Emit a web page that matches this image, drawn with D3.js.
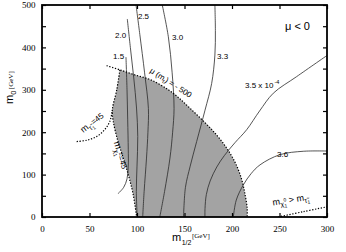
<!DOCTYPE html>
<html>
<head>
<meta charset="utf-8">
<script src="https://cdn.jsdelivr.net/npm/d3@7/dist/d3.min.js"></script>
<style>
body { margin: 0; background: #fff; }
text { font-family: 'Liberation Sans', Arial, sans-serif; fill: #000; }
.axis text { font-family: 'Liberation Serif', 'Times New Roman', serif; font-size: 9px; }
</style>
</head>
<body>
<svg id="chart" width="346" height="252"></svg>
<script>
// axis ticks
var xTicks = [0, 50, 100, 150, 200, 250, 300];
var yTicks = [0, 50, 100, 150, 200, 250, 300, 350, 400, 450, 500];

// BR(b -> s gamma) contours, x 1e-4, points are [m_1/2, m_0]
var br15 = [[88.4, 377], [89.5, 300], [90.2, 229], [90.8, 160], [90.8, 120], [89.5, 90], [86, 70], [80, 55]];
var br20 = [[89.8, 467], [93, 400], [96.5, 330], [99.5, 257], [100.8, 190], [100, 120], [99.3, 60], [100.2, 0]];
var br25 = [[99, 500], [103, 430], [108, 340], [112, 256], [111.5, 200], [110, 139], [107.5, 60], [106, 0]];
var br30 = [[126.6, 500], [133, 425], [137, 340], [139, 256], [137.5, 200], [134.7, 139], [129, 60], [124, 0]];
var br33 = [[182, 500], [182.5, 440], [182, 382], [178.6, 315], [171.6, 252], [162.8, 178], [156, 120], [151, 70], [149, 0]];
var br35 = [[302, 384], [268, 331], [243.5, 292], [229, 250], [215.5, 206], [203, 175], [192, 145], [184, 118], [177, 85], [173, 53], [171.6, 20], [171.5, 0]];
var br36 = [[201.4, 0], [204.5, 40], [212, 76], [220, 102], [229.5, 123], [250.5, 147], [275, 155], [302, 155.5]];
var contours = [br15, br20, br25, br30, br33, br35, br36];

// bounds
var muBound = [[68, 357], [82, 347], [98, 335], [115, 323], [133, 300], [145, 279], [156, 256], [170, 226], [182, 198], [193, 167], [203, 130], [210, 90], [214, 50], [216, 20], [216, 0]];
var charginoBound = [[82, 347], [78.6, 299], [74, 252], [75, 226], [80, 178], [85.6, 139], [90.8, 100], [96, 53], [99.6, 0]];
var stauBound = [[36.5, 178], [47, 181], [57.6, 190], [66, 206], [71.5, 226], [74, 252]];
var lspBound = [[248.5, 0], [275, 12.5], [302, 25]];

var svg = d3.select('#chart');
var margin = { top: 5, right: 19, bottom: 35, left: 42 };
var width = 346 - margin.left - margin.right;
var height = 252 - margin.top - margin.bottom;
var g = svg.append('g').attr('transform', 'translate(' + margin.left + ',' + margin.top + ')');

var x = d3.scaleLinear().domain([0, 300]).range([0, width]);
var y = d3.scaleLinear().domain([0, 500]).range([height, 0]);

var line = d3.line()
    .x(function(d) { return x(d[0]); })
    .y(function(d) { return y(d[1]); })
    .curve(d3.curveCatmullRom.alpha(0.5));

svg.append('defs').append('clipPath').attr('id', 'clip')
    .append('rect').attr('width', width).attr('height', height);

var plot = g.append('g').attr('clip-path', 'url(#clip)');

// excluded / shaded region
var shadeD = line(muBound.slice(1)) + line(charginoBound.slice().reverse()).replace('M', 'L') + 'Z';
plot.append('path')
    .attr('d', shadeD)
    .attr('fill', '#a3a3a3')
    .attr('stroke', 'none');

contours.forEach(function(c) {
    plot.append('path')
        .datum(c)
        .attr('fill', 'none')
        .attr('stroke', '#2a2a2a')
        .attr('stroke-width', 0.8)
        .attr('d', line);
});

[muBound, charginoBound, stauBound, lspBound].forEach(function(c) {
    plot.append('path')
        .datum(c)
        .attr('fill', 'none')
        .attr('stroke', '#000')
        .attr('stroke-width', 1.2)
        .attr('stroke-dasharray', '1.3,1.6')
        .attr('d', line);
});

// axes, ticks pointing inward
g.append('g')
    .attr('class', 'axis')
    .attr('transform', 'translate(0,' + height + ')')
    .call(d3.axisBottom(x).tickValues(xTicks).tickSize(-4).tickPadding(8.5))
    .select('.domain').remove();

g.append('g')
    .attr('class', 'axis')
    .call(d3.axisLeft(y).tickValues(yTicks).tickSize(-4).tickPadding(6.5)
        .tickFormat(function(d) { return d % 100 === 0 ? d : ''; }))
    .select('.domain').remove();

g.append('g')
    .attr('class', 'axis')
    .call(d3.axisTop(x).tickValues(xTicks).tickSize(-4).tickFormat(''))
    .select('.domain').remove();

g.append('g')
    .attr('class', 'axis')
    .attr('transform', 'translate(' + width + ',0)')
    .call(d3.axisRight(y).tickValues(yTicks).tickSize(-4).tickFormat(''))
    .select('.domain').remove();

g.selectAll('.axis line').attr('stroke', '#000').attr('stroke-width', 1.2);

g.append('rect')
    .attr('width', width)
    .attr('height', height)
    .attr('fill', 'none')
    .attr('stroke', '#000')
    .attr('stroke-width', 1.8);

// contour labels
var labels = g.append('g').style('font-size', '8px');
labels.append('text').attr('x', x(74.7)).attr('y', y(372.6)).text('1.5');
labels.append('text').attr('x', x(76.8)).attr('y', y(422)).text('2.0');
labels.append('text').attr('x', x(101)).attr('y', y(467)).text('2.5');
labels.append('text').attr('x', x(136.8)).attr('y', y(418.6)).text('3.0');
labels.append('text').attr('x', x(184.2)).attr('y', y(372.6)).text('3.3');
labels.append('text').attr('x', x(247.4)).attr('y', y(141.5)).text('3.6');
var l35 = labels.append('text').attr('x', x(213.7)).attr('y', y(304));
l35.append('tspan').text('3.5 x 10');
l35.append('tspan').attr('dy', -4).attr('dx', 1).style('font-size', '5.5px').text('-4');

g.append('text')
    .attr('x', x(255.8)).attr('y', y(441))
    .style('font-size', '11px')
    .text('\u03bc < 0');

// rotated labels
var muLab = g.append('text')
    .attr('transform', 'translate(' + x(113) + ',' + y(342) + ') rotate(33)')
    .style('font-size', '8px');
muLab.append('tspan').text('\u03bc (m');
muLab.append('tspan').attr('dy', 2).style('font-size', '5.5px').text('t');
muLab.append('tspan').attr('dy', -2).text(') = - 500');

var stauLab = g.append('text')
    .attr('transform', 'translate(' + x(43.5) + ',' + y(198) + ') rotate(-38)')
    .style('font-size', '9px');
stauLab.append('tspan').text('m');
stauLab.append('tspan').attr('dy', 2.5).style('font-size', '7px').text('\u03c4\u0303');
stauLab.append('tspan').attr('dy', 1.5).style('font-size', '5px').text('1');
stauLab.append('tspan').attr('dy', -4).style('font-size', '8px').text('=45');

var charLab = g.append('text')
    .attr('transform', 'translate(' + x(75.5) + ',' + y(176) + ') rotate(73)')
    .style('font-size', '9px');
charLab.append('tspan').text('m');
charLab.append('tspan').attr('dy', 2.5).style('font-size', '7px').text('\u03c7');
charLab.append('tspan').attr('dy', 1.5).style('font-size', '5px').text('1');
charLab.append('tspan').attr('dy', -6).attr('dx', -2.5).style('font-size', '6px').text('\u00b1');
charLab.append('tspan').attr('dy', 2).style('font-size', '8px').text('=45');

var lspLab = g.append('text')
    .attr('transform', 'translate(' + x(243.2) + ',' + y(27) + ') rotate(-9)')
    .style('font-size', '9px');
lspLab.append('tspan').text('m');
lspLab.append('tspan').attr('dy', 2.5).style('font-size', '7px').text('\u03c7');
lspLab.append('tspan').attr('dy', 1.5).style('font-size', '5px').text('1');
lspLab.append('tspan').attr('dy', -6).attr('dx', -2.8).style('font-size', '5px').text('0');
lspLab.append('tspan').attr('dy', 2).text(' > m');
lspLab.append('tspan').attr('dy', 2.5).style('font-size', '7px').text('\u03c4\u0303');
lspLab.append('tspan').attr('dy', 1.5).style('font-size', '5px').text('1');

// axis titles
var yTitle = svg.append('text').attr('transform', 'translate(12.5,104) rotate(-90)');
yTitle.append('tspan').style('font-size', '11px').text('m');
yTitle.append('tspan').attr('dy', 3).style('font-size', '7.5px').text('0');
yTitle.append('tspan').attr('dy', -3).attr('dx', 1.5)
    .style('font-size', '7px').style('font-family', "'Liberation Serif', serif").text('[GeV]');

var xTitle = svg.append('text').attr('transform', 'translate(172,241)');
xTitle.append('tspan').style('font-size', '11px').text('m');
xTitle.append('tspan').attr('dy', 3.5).attr('dx', 0.5).style('font-size', '7px').text('1/2');
xTitle.append('tspan').attr('dy', -6.5).attr('dx', 0.5)
    .style('font-size', '7px').style('font-family', "'Liberation Serif', serif").text('[GeV]');
</script>
</body>
</html>
